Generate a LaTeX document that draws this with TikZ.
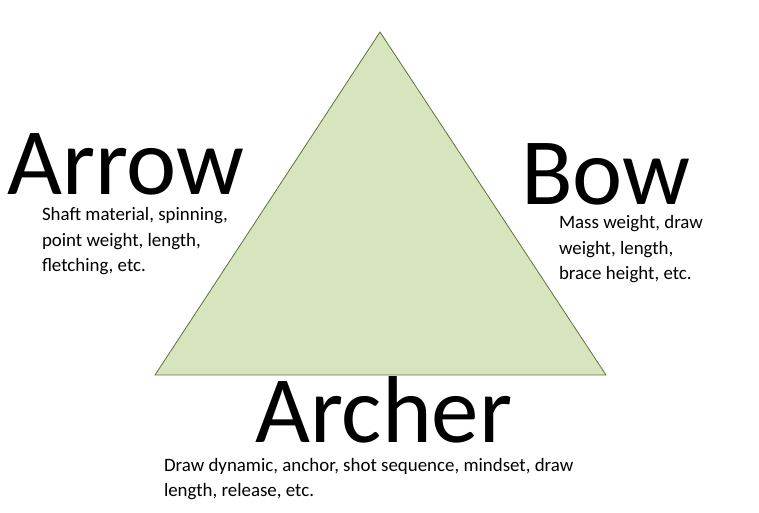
\documentclass[tikz,border=0pt]{standalone}
\usepackage{fontspec}
\setmainfont{Carlito}
\usepackage{tikz}

\begin{document}
\begin{tikzpicture}[x=1pt,y=1pt,
  bigLabel/.style={anchor=base west,inner sep=0pt,outer sep=0pt,font=\fontsize{95}{95}\selectfont},
  noteText/.style={anchor=base west,inner sep=0pt,outer sep=0pt,align=left,font=\fontsize{18.9}{25.8}\selectfont}]
\definecolor{fillColor}{RGB}{215,228,189}
\definecolor{drawColor}{RGB}{95,115,55}
\path[use as bounding box,fill=white] (0,0) rectangle (759,513);

% triangle
\coordinate (apex) at (380,481);
\coordinate (left) at (155,138);
\coordinate (right) at (606,138);
\path[draw=drawColor,line width=0.8pt,line join=miter,fill=fillColor] (apex) -- (right) -- (left) -- cycle;

% headings
\node[bigLabel] (arrow) at (7,318) {Arrow};
\node[bigLabel] (bow) at (521,308) {Bow};
\node[bigLabel] (archer) at (255,70) {Archer};

% notes (base = last line)
\node[noteText] (arrowNote) at (42,241) {Shaft material, spinning,\\point weight, length,\\fletching, etc.};
\node[noteText] (bowNote) at (559,233) {Mass weight, draw\\weight, length,\\brace height, etc.};
\node[noteText] (archerNote) at (164,16) {Draw dynamic, anchor, shot sequence, mindset, draw\\length, release, etc.};
\end{tikzpicture}
\end{document}
